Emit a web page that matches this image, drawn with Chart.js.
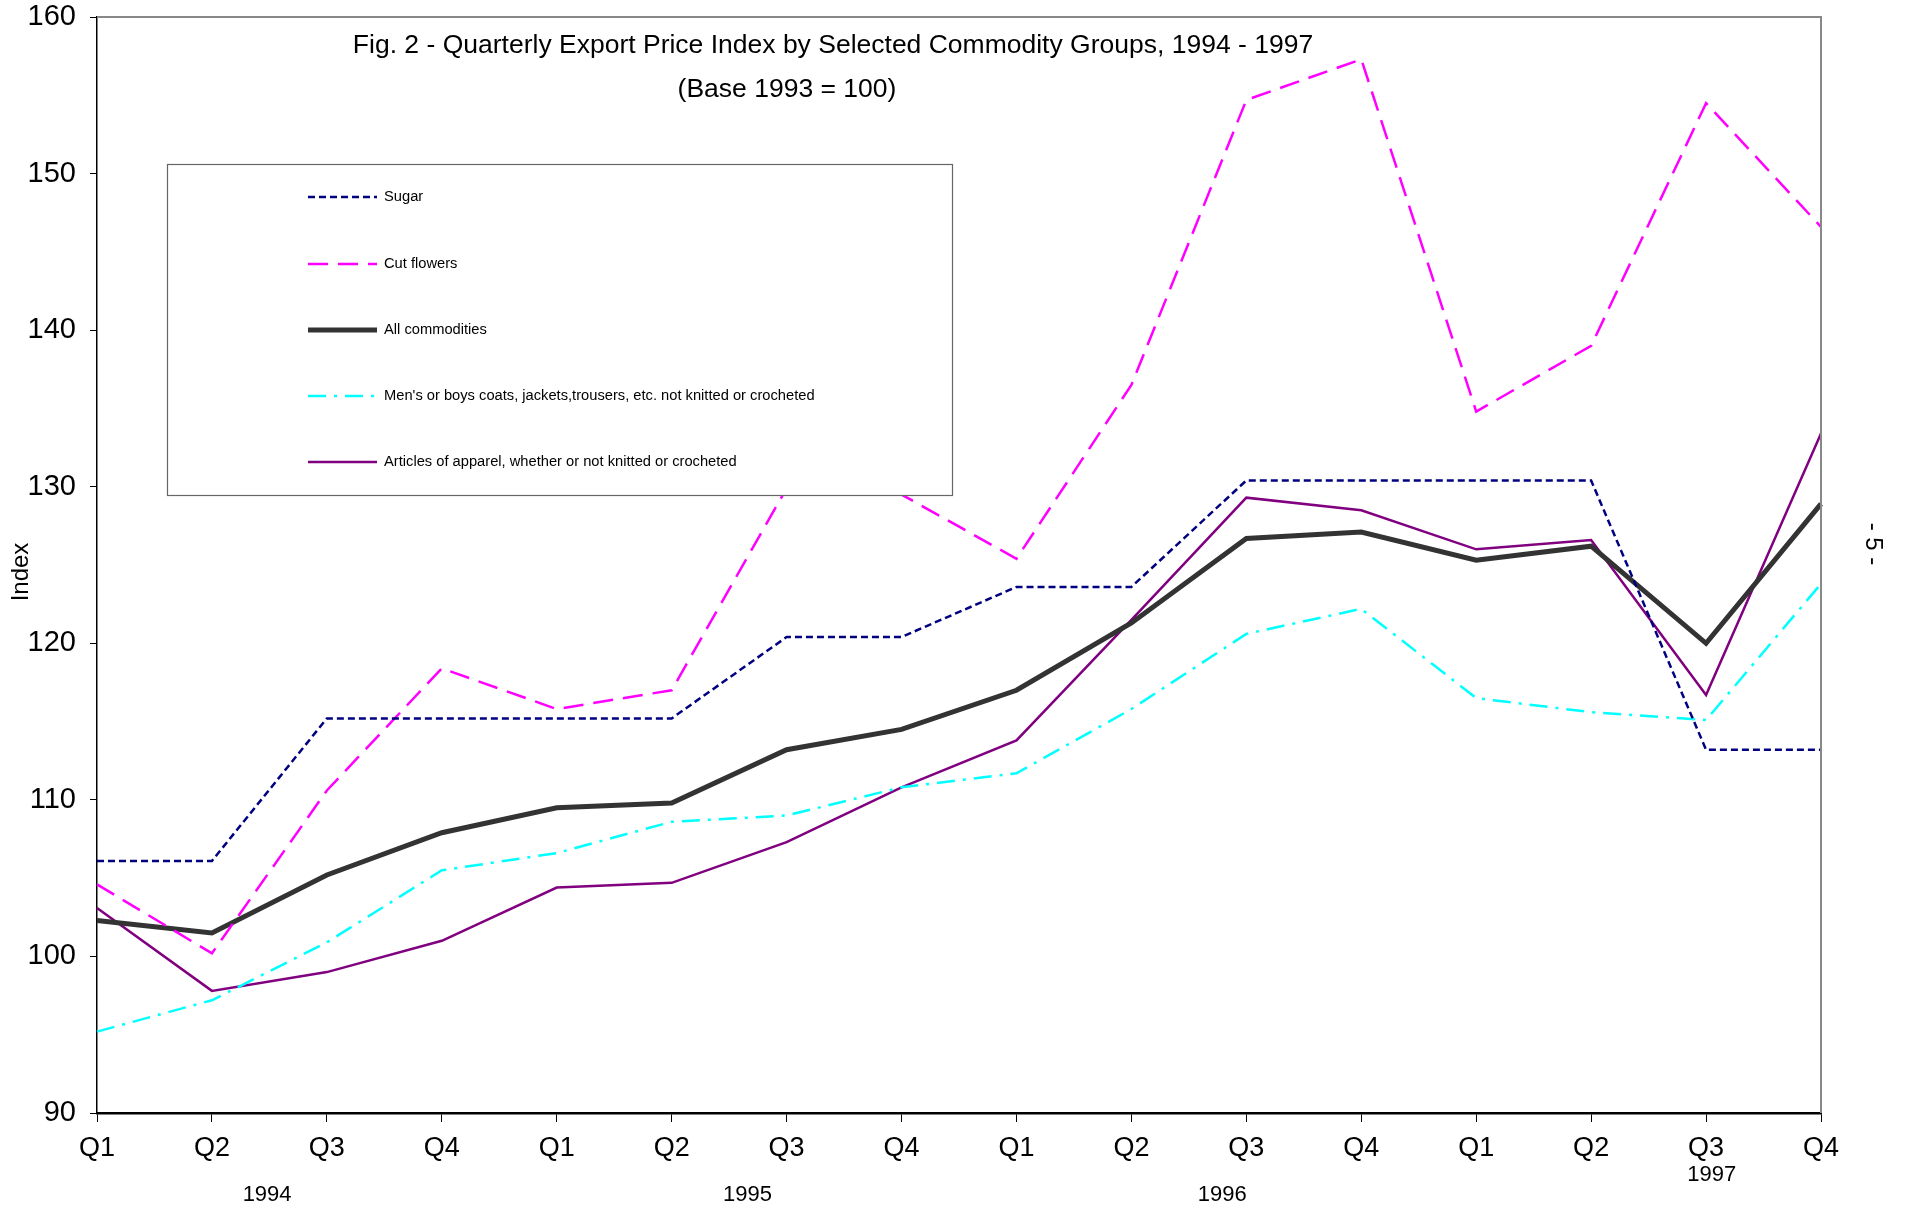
<!DOCTYPE html>
<html>
<head>
<meta charset="utf-8">
<style>
  html, body { margin: 0; padding: 0; background: #fff; }
  canvas { display: block; }
</style>
<script src="https://cdn.jsdelivr.net/npm/chart.js@4.4.1/dist/chart.umd.min.js"></script>
</head>
<body>
<canvas id="myChart" width="1907" height="1213"></canvas>
<script>
// quarters 1994 Q1 .. 1997 Q4
var quarters = ['Q1','Q2','Q3','Q4','Q1','Q2','Q3','Q4','Q1','Q2','Q3','Q4','Q1','Q2','Q3','Q4'];
var years = ['1994', '1995', '1996', '1997'];
var yearPos = [1.48, 5.66, 9.79, 14.05];   // position along the quarter axis
var yTicks = [90, 100, 110, 120, 130, 140, 150, 160];

var sugar = [106.1, 106.1, 115.2, 115.2, 115.2, 115.2, 120.4, 120.4, 123.6, 123.6, 130.4, 130.4, 130.4, 130.4, 113.2, 113.2];
var cutFlowers = [104.6, 100.2, 110.6, 118.4, 115.8, 117.0, 129.9, 129.5, 125.4, 136.5, 154.7, 157.3, 134.8, 139.0, 154.5, 146.6];
var allCommodities = [102.3, 101.5, 105.2, 107.9, 109.5, 109.8, 113.2, 114.5, 117.0, 121.3, 126.7, 127.1, 125.3, 126.2, 120.0, 128.9];
var mensCoats = [95.2, 97.2, 100.9, 105.5, 106.6, 108.6, 109.0, 110.8, 111.7, 115.8, 120.6, 122.2, 116.5, 115.6, 115.1, 123.8];
var apparel = [103.1, 97.8, 99.0, 101.0, 104.4, 104.7, 107.3, 110.8, 113.8, 121.5, 129.3, 128.5, 126.0, 126.6, 116.7, 133.4];

var FONT = '"Liberation Sans", Arial, sans-serif';

// title, legend box, year labels, side texts
var decorations = {
  id: 'decorations',
  afterDatasetsDraw: function(chart) {
    var ctx = chart.ctx;
    var area = chart.chartArea;
    var x = chart.scales.x;

    ctx.save();
    // frame top/right
    ctx.strokeStyle = '#888888';
    ctx.lineWidth = 2;
    ctx.beginPath();
    ctx.moveTo(area.left, area.top);
    ctx.lineTo(area.right, area.top);
    ctx.lineTo(area.right, area.bottom);
    ctx.stroke();

    // title
    ctx.fillStyle = '#000';
    ctx.textAlign = 'center';
    ctx.textBaseline = 'middle';
    ctx.font = '26.5px ' + FONT;
    ctx.fillText('Fig. 2 - Quarterly Export Price Index by Selected Commodity Groups, 1994 - 1997', 833, 46);
    ctx.fillText('(Base 1993 = 100)', 787, 90);

    // legend
    ctx.fillStyle = '#fff';
    ctx.fillRect(167, 164, 785, 331);
    ctx.strokeStyle = '#666';
    ctx.lineWidth = 1.2;
    ctx.strokeRect(167.5, 164.5, 785, 331);
    var rowY = [197, 264, 330, 396, 462];
    ctx.font = '14.7px ' + FONT;
    ctx.textAlign = 'left';
    chart.data.datasets.forEach(function(ds, i) {
      ctx.save();
      ctx.strokeStyle = ds.borderColor;
      ctx.lineWidth = ds.borderWidth;
      ctx.setLineDash(ds.borderDash || []);
      ctx.beginPath();
      ctx.moveTo(308, rowY[i]);
      ctx.lineTo(377, rowY[i]);
      ctx.stroke();
      ctx.restore();
      ctx.fillStyle = '#000';
      ctx.fillText(ds.label, 384, rowY[i]);
    });

    // year labels under the quarters
    ctx.font = '22px ' + FONT;
    ctx.textAlign = 'center';
    var x0 = x.getPixelForTick(0), x1 = x.getPixelForTick(quarters.length - 1);
    years.forEach(function(yr, i) {
      var px = x0 + (x1 - x0) * yearPos[i] / (quarters.length - 1);
      ctx.fillText(yr, px, i === 3 ? 1175 : 1195);
    });

    // axis title
    ctx.font = '24px ' + FONT;
    ctx.save();
    ctx.translate(21, 572);
    ctx.rotate(-Math.PI / 2);
    ctx.fillText('Index', 0, 0);
    ctx.restore();

    // page number
    ctx.save();
    ctx.translate(1873, 544);
    ctx.rotate(Math.PI / 2);
    ctx.fillText('- 5 -', 0, 0);
    ctx.restore();
    ctx.restore();
  }
};

var ctx = document.getElementById('myChart').getContext('2d');
var chart = new Chart(ctx, {
  type: 'line',
  data: {
    labels: quarters,
    datasets: [{
      label: 'Sugar',
      data: sugar,
      borderColor: '#000080',
      borderWidth: 2.5,
      borderDash: [7, 4]
    }, {
      label: 'Cut flowers',
      data: cutFlowers,
      borderColor: '#ff00ff',
      borderWidth: 2.5,
      borderDash: [20, 10]
    }, {
      label: 'All commodities',
      data: allCommodities,
      borderColor: '#333333',
      borderWidth: 5
    }, {
      label: "Men's or boys coats, jackets,trousers, etc. not knitted or crocheted",
      data: mensCoats,
      borderColor: '#00ffff',
      borderWidth: 2.5,
      borderDash: [18, 8, 3, 8]
    }, {
      label: 'Articles of apparel, whether or not knitted or crocheted',
      data: apparel,
      borderColor: '#800080',
      borderWidth: 2.5
    }]
  },
  options: {
    responsive: false,
    animation: false,
    devicePixelRatio: 1,
    layout: { padding: { top: 17, right: 86, left: 0, bottom: 0 } },
    elements: {
      point: { radius: 0 },
      line: { tension: 0, fill: false, borderJoinStyle: 'miter' }
    },
    plugins: {
      legend: { display: false },
      title: { display: false },
      tooltip: { enabled: false }
    },
    scales: {
      x: {
        offset: false,
        grid: { drawOnChartArea: false, tickLength: 9, color: '#000', tickWidth: 1 },
        border: { color: '#000', width: 2.5 },
        ticks: { autoSkip: false, maxRotation: 0, padding: 10, color: '#000', font: { family: FONT, size: 27 } },
        afterFit: function(s) { s.height = 100; }
      },
      y: {
        min: 90,
        max: 160,
        afterBuildTicks: function(s) { s.ticks = yTicks.map(function(v) { return { value: v }; }); },
        grid: { drawOnChartArea: false, tickLength: 7, color: '#000', tickWidth: 1 },
        border: { color: '#000', width: 1.5 },
        ticks: { padding: 14, color: '#000', font: { family: FONT, size: 29 } },
        afterFit: function(s) { s.width = 97; s.paddingTop = 0; s.paddingBottom = 0; }
      }
    }
  },
  plugins: [decorations]
});
</script>
</body>
</html>
